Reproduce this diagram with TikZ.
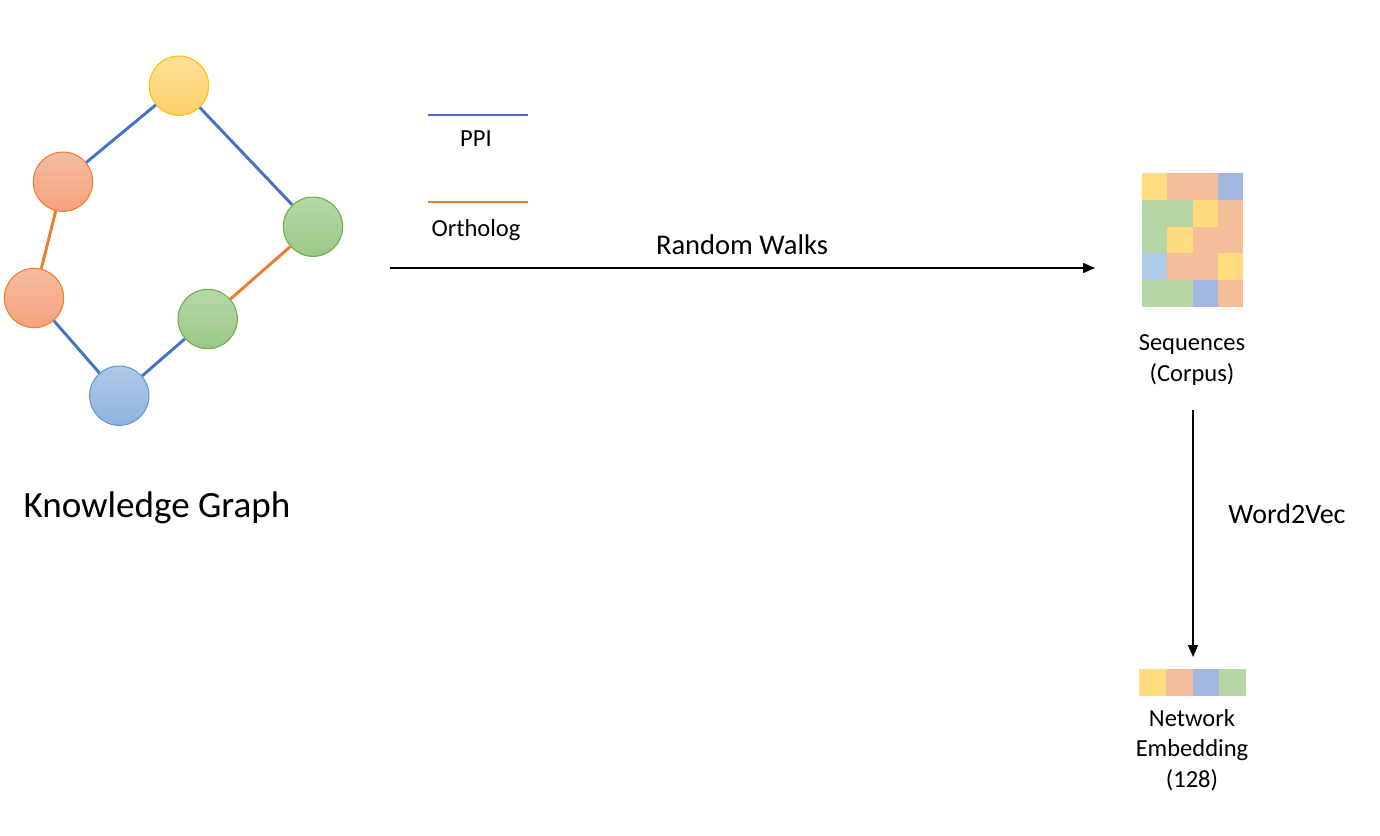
\documentclass[tikz,border=0pt]{standalone}
\usepackage{fontspec}
\setmainfont{Carlito}
\usetikzlibrary{arrows.meta}
\definecolor{ppi}{HTML}{4472C4}
\definecolor{orth}{HTML}{ED7D31}
\definecolor{cy}{HTML}{FFDA7F}
\definecolor{co}{HTML}{F5BE9A}
\definecolor{cb}{HTML}{A2B8E0}
\definecolor{cg}{HTML}{B8D6A3}
\definecolor{cl}{HTML}{AFCBE9}
\tikzstyle{vx}=[shape=circle, minimum size=44.5pt, inner sep=0, line width=0.8pt]
\tikzstyle{vy}=[vx, draw={rgb,255:red,255;green,192;blue,0}, top color={rgb,255:red,255;green,224;blue,154}, bottom color={rgb,255:red,254;green,208;blue,104}]
\tikzstyle{vo}=[vx, draw=orth, top color={rgb,255:red,246;green,188;blue,162}, bottom color={rgb,255:red,244;green,162;blue,124}]
\tikzstyle{vg}=[vx, draw={rgb,255:red,112;green,173;blue,71}, top color={rgb,255:red,183;green,215;blue,168}, bottom color={rgb,255:red,155;green,200;blue,133}]
\tikzstyle{vb}=[vx, draw={rgb,255:red,91;green,155;blue,213}, top color={rgb,255:red,176;green,200;blue,232}, bottom color={rgb,255:red,142;green,178;blue,224}]
\tikzstyle{lk}=[line width=2.2pt]
\tikzstyle{arr}=[line width=1.1pt, -{Triangle[length=9pt, width=7.5pt]}]
\tikzstyle{lbl}=[inner sep=0, font=\fontsize{18.4}{23}\selectfont, align=center]

\begin{document}
\begin{tikzpicture}[x=0.75pt, y=-0.75pt]
\useasboundingbox (0,0) rectangle (1380,835);
% knowledge graph
\node at (179,85.7)[vy](0){};
\node at (63,181.7)[vo](1){};
\node at (34,298)[vo](2){};
\node at (119.3,395.7)[vb](3){};
\node at (207.7,319)[vg](4){};
\node at (313,226.7)[vg](5){};
\draw[lk, ppi] (0)--(1);
\draw[lk, ppi] (0)--(5);
\draw[lk, orth] (1)--(2);
\draw[lk, ppi] (2)--(3);
\draw[lk, ppi] (3)--(4);
\draw[lk, orth] (4)--(5);
\node at (157,508)[inner sep=0, font=\fontsize{27.8}{33}\selectfont](kg){Knowledge Graph};
% legend
\coordinate (p1) at (428,115);
\coordinate (p2) at (528,115);
\coordinate (o1) at (428,202);
\coordinate (o2) at (528,202);
\draw[lk, ppi, line width=1.7pt] (p1)--(p2);
\draw[lk, orth, line width=1.7pt] (o1)--(o2);
\node at (476,139)[lbl](ppi){PPI};
\node at (476,230)[lbl](orth){Ortholog};
% random walks
\coordinate (rw1) at (390,268);
\coordinate (rw2) at (1095,268);
\draw[arr] (rw1)--(rw2);
\node at (742,245)[inner sep=0, font=\fontsize{21.4}{26}\selectfont](rw){Random Walks};
% sequences
\foreach \r/\row in {0/{cy,co,co,cb}, 1/{cg,cg,cy,co}, 2/{cg,cy,co,co}, 3/{cl,co,co,cy}, 4/{cg,cg,cb,co}}
  \foreach \c [count=\k from 0] in \row
    \fill[\c] (1142+25.25*\k,173+26.8*\r) rectangle ++(25.25,26.8);
\node at (1192,360)[lbl](seq){Sequences\\(Corpus)};
% word2vec
\coordinate (wv1) at (1193,410);
\coordinate (wv2) at (1193,657);
\draw[arr] (wv1)--(wv2);
\node at (1287,514)[inner sep=0, font=\fontsize{21}{26}\selectfont](w2v){Word2Vec};
% embedding
\foreach \c [count=\k from 0] in {cy,co,cb,cg}
  \fill[\c] (1139+26.75*\k,669) rectangle ++(26.75,27);
\node at (1192,750)[lbl](emb){Network\\Embedding\\(128)};
\end{tikzpicture}
\end{document}
